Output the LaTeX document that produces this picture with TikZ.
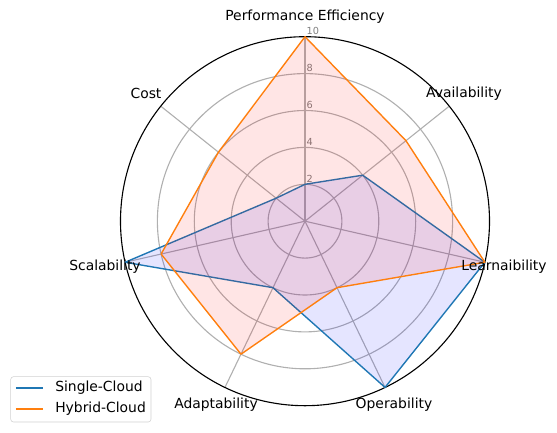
\documentclass[tikz,border=0pt]{standalone}
\usepackage{fontspec}
\setmainfont{DejaVu Sans}
\usetikzlibrary{calc}

\definecolor{singlecol}{HTML}{1F77B4}
\definecolor{hybridcol}{HTML}{FF7F0E}
\definecolor{gridgray}{HTML}{B0B0B0}

\tikzset{
  gridline/.style={gridgray, line width=0.8pt},
  axislabel/.style={font=\fontsize{10}{12}\selectfont, inner sep=0pt},
  ticklabel/.style={font=\fontsize{7}{8}\selectfont, text=gray, anchor=south west, inner sep=1pt},
  singleline/.style={singlecol, line width=1pt, line join=round},
  hybridline/.style={hybridcol, line width=1pt, line join=round},
}

\begin{document}
\begin{tikzpicture}[x=0.72pt,y=0.72pt]
\useasboundingbox (-305,-210.8) rectangle (252,221.2);

% grid rings and spokes
\foreach \r in {2,4,6,8}
  \draw[gridline] (0,0) circle[radius=\r*18.45];
\foreach \k in {0,...,6}
  \draw[gridline] (0,0) -- (90-\k*360/7:184.5);
\draw[line width=0.8pt] (0,0) circle[radius=184.5];

% ring values
\foreach \r in {2,4,6,8,10}
  \node[ticklabel] (tick\r) at (0,\r*18.45) {\r};

% data points
\foreach \v [count=\k from 0] in {2,4,10,10,4,10,2}
  \coordinate (s\k) at (90-\k*360/7:\v*18.45);
\foreach \v [count=\k from 0] in {10,7,10,4,8,8,6}
  \coordinate (h\k) at (90-\k*360/7:\v*18.45);

\fill[blue, opacity=0.1] (s0) -- (s1) -- (s2) -- (s3) -- (s4) -- (s5) -- (s6) -- cycle;
\draw[singleline] (s0) -- (s1) -- (s2) -- (s3) -- (s4) -- (s5) -- (s6) -- cycle;
\fill[red, opacity=0.1] (h0) -- (h1) -- (h2) -- (h3) -- (h4) -- (h5) -- (h6) -- cycle;
\draw[hybridline] (h0) -- (h1) -- (h2) -- (h3) -- (h4) -- (h5) -- (h6) -- cycle;

% category labels
\node[axislabel] (perf) at (0,205) {Performance Efficiency};
\node[axislabel] (avail) at (159,128) {Availability};
\node[axislabel] (learn) at (199,-45) {Learnaibility};
\node[axislabel] (oper) at (89,-183) {Operability};
\node[axislabel] (adapt) at (-89,-183) {Adaptability};
\node[axislabel] (scal) at (-200,-45) {Scalability};
\node[axislabel] (cost) at (-159,128) {Cost};

% legend
\draw[gray!35, fill=white, fill opacity=0.8, rounded corners=2pt] (-294.3,-155.5) rectangle (-154,-200.8);
\coordinate (singleA) at (-289,-166.8);
\coordinate (singleB) at (-262,-166.8);
\coordinate (hybridA) at (-289,-187.8);
\coordinate (hybridB) at (-262,-187.8);
\draw[singleline] (singleA) -- (singleB);
\draw[hybridline] (hybridA) -- (hybridB);
\node[axislabel, anchor=west] (single) at (-250,-166.8) {Single-Cloud};
\node[axislabel, anchor=west] (hybrid) at (-250,-187.8) {Hybrid-Cloud};
\end{tikzpicture}
\end{document}
